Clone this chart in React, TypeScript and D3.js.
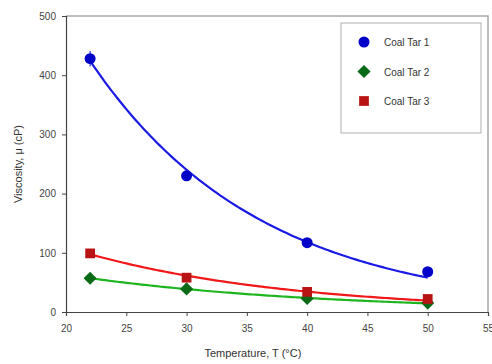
import { useRef, useEffect } from 'react';
import * as d3 from 'd3';

const TEMPS = [22, 30, 40, 50];
const COAL_TAR_1 = [428, 230, 117, 68];
const COAL_TAR_2 = [57, 39, 23, 15];
const COAL_TAR_3 = [99, 58, 34, 22];
const ERR_1 = [13, 7, 6, 7];
const ERR_2 = [3, 3, 2, 2];
const ERR_3 = [4, 3, 2, 2];
const X_TICKS = [20, 25, 30, 35, 40, 45, 50, 55];
const Y_TICKS = [0, 100, 200, 300, 400, 500];

const SERIES = [
  { name: 'Coal Tar 1', values: COAL_TAR_1, err: ERR_1, marker: 'circle', fill: '#0000c8', line: '#1a1ae6' },
  { name: 'Coal Tar 2', values: COAL_TAR_2, err: ERR_2, marker: 'diamond', fill: '#0b6a16', line: '#1fb51f' },
  { name: 'Coal Tar 3', values: COAL_TAR_3, err: ERR_3, marker: 'square', fill: '#b81414', line: '#f01818' },
];

// exponential trendline, log-linear fit weighted by y^2
function expFit(xs: number[], ys: number[]) {
  const w = ys.map(y => y * y);
  const ly = ys.map(y => Math.log(y));
  const sw = d3.sum(w);
  const xm = d3.sum(xs.map((x, i) => x * w[i])) / sw;
  const lm = d3.sum(ly.map((l, i) => l * w[i])) / sw;
  let sxy = 0, sxx = 0;
  xs.forEach((x, i) => {
    sxy += w[i] * (x - xm) * (ly[i] - lm);
    sxx += w[i] * (x - xm) * (x - xm);
  });
  const b = sxy / sxx;
  return (x: number) => Math.exp(lm + b * (x - xm));
}

export default function App() {
  const svgRef = useRef<SVGSVGElement>(null);

  useEffect(() => {
    const svg = d3.select(svgRef.current);
    svg.selectAll('*').remove();
    const width = 492, height = 364;
    const margin = { top: 16, right: 4, bottom: 52, left: 66 };
    const innerW = width - margin.left - margin.right;
    const innerH = height - margin.top - margin.bottom;

    const g = svg.append('g').attr('transform', `translate(${margin.left},${margin.top})`);
    const x = d3.scaleLinear().domain([20, 55]).range([0, innerW - 0]);
    const y = d3.scaleLinear().domain([0, 500]).range([innerH, 0]);

    // frame top/right
    g.append('path')
      .attr('d', `M0,0H${x(55)}V${innerH}`)
      .attr('fill', 'none').attr('stroke', '#a8a8a8').attr('stroke-width', 1.5);

    const xAxis = g.append('g').attr('transform', `translate(0,${innerH})`)
      .call(d3.axisBottom(x).tickValues(X_TICKS).tickSize(4).tickPadding(9).tickFormat(d3.format('d')));
    const yAxis = g.append('g')
      .call(d3.axisLeft(y).tickValues(Y_TICKS).tickSize(4).tickPadding(6).tickFormat(d3.format('d')));
    [xAxis, yAxis].forEach(a => {
      a.select('.domain').attr('stroke', '#444').attr('stroke-width', 1.2);
      a.selectAll('line').attr('stroke', '#444');
      a.selectAll('text').attr('fill', '#444').attr('font-size', 10).attr('font-family', 'Liberation Sans, Arial, sans-serif');
    });

    const fitX = d3.range(22, 50.01, 0.25);
    SERIES.forEach(s => {
      const f = expFit(TEMPS, s.values);
      g.append('path')
        .datum(fitX)
        .attr('d', d3.line<number>().x(d => x(d)).y(d => y(f(d))))
        .attr('fill', 'none').attr('stroke', s.line).attr('stroke-width', 2.2);
    });

    const symbolOf = (m: string) =>
      m === 'circle' ? d3.symbol(d3.symbolCircle, 95)
        : m === 'diamond' ? d3.symbol(d3.symbolDiamond2, 110)
        : d3.symbol(d3.symbolSquare, 95);

    SERIES.forEach(s => {
      s.values.forEach((v, i) => {
        g.append('line')
          .attr('x1', x(TEMPS[i])).attr('x2', x(TEMPS[i]))
          .attr('y1', y(v - s.err[i])).attr('y2', y(v + s.err[i]))
          .attr('stroke', s.fill).attr('stroke-width', 1);
      });
      g.selectAll(null).data(s.values).join('path')
        .attr('transform', (d, i) => `translate(${x(TEMPS[i])},${y(d)})`)
        .attr('d', symbolOf(s.marker)()!)
        .attr('fill', s.fill);
    });

    // legend
    const lg = svg.append('g').attr('transform', 'translate(341,23)');
    lg.append('rect').attr('width', 140).attr('height', 110)
      .attr('fill', '#fff').attr('stroke', '#b0b0b0').attr('stroke-width', 1);
    SERIES.forEach((s, i) => {
      const row = lg.append('g').attr('transform', `translate(23,${19 + i * 29.5})`);
      row.append('path').attr('d', symbolOf(s.marker)()!).attr('fill', s.fill);
      row.append('text').attr('x', 20).attr('y', 4)
        .attr('font-size', 10).attr('fill', '#333')
        .attr('font-family', 'Liberation Sans, Arial, sans-serif')
        .text(s.name);
    });

    svg.append('text')
      .attr('x', margin.left + x(35.5)).attr('y', 357)
      .attr('text-anchor', 'middle').attr('font-size', 11).attr('fill', '#333')
      .attr('font-family', 'Liberation Sans, Arial, sans-serif')
      .text('Temperature, T (°C)');
    svg.append('text')
      .attr('transform', `translate(22,${margin.top + innerH / 2}) rotate(-90)`)
      .attr('text-anchor', 'middle').attr('font-size', 11).attr('fill', '#333')
      .attr('font-family', 'Liberation Sans, Arial, sans-serif')
      .text('Viscosity, μ (cP)');
  }, []);

  return (
    <div style={{ position: 'absolute', left: 0, top: 0 }}>
      <svg ref={svgRef} width={492} height={364} style={{ display: 'block', background: '#fff' }} />
    </div>
  );
}
